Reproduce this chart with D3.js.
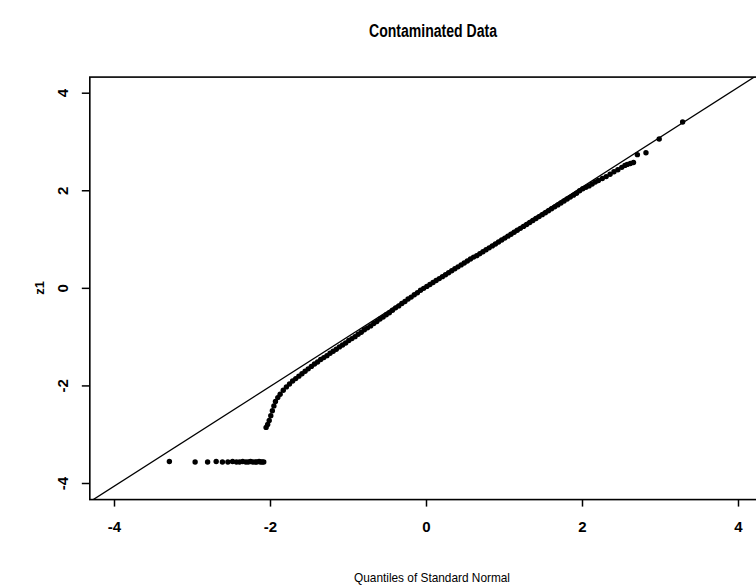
<!DOCTYPE html>
<html>
<head>
<meta charset="utf-8">
<script src="https://cdn.jsdelivr.net/npm/d3@7"></script>
<style>
  body { margin: 0; background: #fff; }
  svg { display: block; font-family: "Liberation Sans", Arial, sans-serif; }
</style>
</head>
<body>
<script>
// contaminated points (flat cluster in the lower tail)
var contamX = [-3.29, -2.96, -2.80, -2.69, -2.61, -2.54, -2.48, -2.43, -2.39, -2.35,
               -2.31, -2.28, -2.25, -2.22, -2.19, -2.17, -2.14, -2.12, -2.10, -2.08];
var contamY = [-3.56, -3.57, -3.57, -3.56, -3.57, -3.57, -3.56, -3.57, -3.57, -3.56,
               -3.57, -3.57, -3.56, -3.57, -3.57, -3.57, -3.56, -3.57, -3.57, -3.57];

// main body of the sample quantiles
var bodyX = [-2.05, -2.03, -2.01, -1.99, -1.97, -1.95, -1.93, -1.90, -1.87, -1.83, -1.79, -1.75,
  -1.71, -1.67, -1.63, -1.59, -1.55, -1.51, -1.47, -1.43, -1.39, -1.35, -1.31, -1.27,
  -1.23, -1.19, -1.15, -1.11, -1.07, -1.03, -0.99, -0.95, -0.91, -0.87, -0.83, -0.79,
  -0.75, -0.71, -0.67, -0.63, -0.59, -0.55, -0.51, -0.47, -0.43, -0.39, -0.35, -0.31,
  -0.27, -0.23, -0.19, -0.15, -0.11, -0.07, -0.03, 0.01, 0.05, 0.09, 0.13, 0.17,
  0.21, 0.25, 0.29, 0.33, 0.37, 0.41, 0.45, 0.49, 0.53, 0.57, 0.61, 0.65,
  0.69, 0.73, 0.77, 0.81, 0.85, 0.89, 0.93, 0.97, 1.01, 1.05, 1.09, 1.13,
  1.17, 1.21, 1.25, 1.29, 1.33, 1.37, 1.41, 1.45, 1.49, 1.53, 1.57, 1.61,
  1.65, 1.69, 1.73, 1.77, 1.81, 1.85, 1.89, 1.93, 1.97, 2.01, 2.05, 2.09,
  2.13, 2.17, 2.21, 2.26, 2.31, 2.36, 2.41, 2.46, 2.51, 2.55, 2.58, 2.62,
  2.66, 2.71, 2.82, 2.99, 3.29];
var bodyY = [-2.86, -2.80, -2.72, -2.62, -2.52, -2.42, -2.33, -2.25, -2.18, -2.10, -2.03, -1.97,
  -1.91, -1.86, -1.81, -1.76, -1.71, -1.66, -1.61, -1.56, -1.52, -1.47, -1.43, -1.39,
  -1.34, -1.30, -1.26, -1.21, -1.17, -1.13, -1.08, -1.04, -1.00, -0.95, -0.91, -0.86,
  -0.82, -0.78, -0.73, -0.69, -0.64, -0.60, -0.55, -0.51, -0.46, -0.41, -0.37, -0.32,
  -0.28, -0.23, -0.19, -0.14, -0.10, -0.05, -0.01, 0.03, 0.07, 0.11, 0.15, 0.19,
  0.23, 0.27, 0.31, 0.35, 0.39, 0.43, 0.47, 0.51, 0.55, 0.59, 0.63, 0.66,
  0.70, 0.74, 0.78, 0.82, 0.86, 0.90, 0.94, 0.98, 1.02, 1.06, 1.10, 1.14,
  1.18, 1.22, 1.26, 1.30, 1.34, 1.38, 1.42, 1.46, 1.50, 1.54, 1.58, 1.62,
  1.66, 1.70, 1.74, 1.78, 1.82, 1.86, 1.90, 1.94, 1.99, 2.03, 2.06, 2.09,
  2.13, 2.17, 2.20, 2.24, 2.28, 2.33, 2.38, 2.42, 2.47, 2.51, 2.53, 2.55,
  2.57, 2.73, 2.77, 3.05, 3.40];

var ticks = [-4, -2, 0, 2, 4];
var lineA = 0.02, lineB = 1.022;   // reference line y = a + b*x
var xLim = [-4.31, 4.31], yLim = [-4.34, 4.32];

var svg = d3.select("body").append("svg")
  .attr("width", 756)
  .attr("height", 585);

var x = d3.scaleLinear().domain([-4, 4]).range([114, 738]);
var y = d3.scaleLinear().domain([-4, 4]).range([483, 92.7]);

var pLeft = x(xLim[0]), pRight = x(xLim[1]), pTop = y(yLim[1]), pBottom = y(yLim[0]);

svg.append("clipPath").attr("id", "plot")
  .append("rect")
  .attr("x", pLeft).attr("y", pTop)
  .attr("width", pRight - pLeft).attr("height", pBottom - pTop);

var plot = svg.append("g").attr("clip-path", "url(#plot)");

// reference line
plot.append("line")
  .attr("x1", x(-4.6)).attr("y1", y(lineA + lineB * -4.6))
  .attr("x2", x(4.6)).attr("y2", y(lineA + lineB * 4.6))
  .attr("stroke", "#000").attr("stroke-width", 1.3);

// points
var pts = contamX.map(function(d, i) { return [d, contamY[i]]; })
  .concat(bodyX.map(function(d, i) { return [d, bodyY[i]]; }));

plot.selectAll("circle").data(pts).enter().append("circle")
  .attr("cx", function(d) { return x(d[0]); })
  .attr("cy", function(d) { return y(d[1]); })
  .attr("r", 2.7)
  .attr("fill", "#000");

// frame
svg.append("rect")
  .attr("x", pLeft).attr("y", pTop)
  .attr("width", pRight - pLeft).attr("height", pBottom - pTop)
  .attr("fill", "none").attr("stroke", "#000").attr("stroke-width", 1.6);

var fmt = function(d) { return String(d); };

// x axis
var xAxis = svg.append("g")
  .attr("transform", "translate(0," + pBottom + ")")
  .call(d3.axisBottom(x).tickValues(ticks).tickFormat(fmt).tickSize(7).tickPadding(15).tickSizeOuter(0));
xAxis.select(".domain").remove();
xAxis.selectAll("line").attr("stroke-width", 1.5);
xAxis.selectAll("text")
  .attr("font-size", 15).attr("font-weight", "bold")
  .attr("font-family", "Liberation Sans, Arial, sans-serif").attr("fill", "#000");

// y axis (labels rotated like R's las=0)
var yAxis = svg.append("g")
  .attr("transform", "translate(" + pLeft + ",0)")
  .call(d3.axisLeft(y).tickValues(ticks).tickFormat(fmt).tickSize(8).tickSizeOuter(0));
yAxis.select(".domain").remove();
yAxis.selectAll("line").attr("stroke-width", 1.5);
yAxis.selectAll("text")
  .attr("x", 0).attr("dy", 0)
  .attr("transform", "translate(-27,0) rotate(-90)")
  .attr("text-anchor", "middle")
  .attr("dominant-baseline", "central")
  .attr("font-size", 15).attr("font-weight", "bold")
  .attr("font-family", "Liberation Sans, Arial, sans-serif").attr("fill", "#000");

// title
svg.append("text")
  .attr("x", 433).attr("y", 37)
  .attr("text-anchor", "middle")
  .attr("font-size", 18).attr("font-weight", "bold")
  .attr("textLength", 128).attr("lengthAdjust", "spacingAndGlyphs")
  .text("Contaminated Data");

// axis titles
svg.append("text")
  .attr("x", 432).attr("y", 582)
  .attr("text-anchor", "middle")
  .attr("font-size", 13)
  .attr("textLength", 156).attr("lengthAdjust", "spacingAndGlyphs")
  .text("Quantiles of Standard Normal");

svg.append("text")
  .attr("transform", "translate(44," + y(0) + ") rotate(-90)")
  .attr("text-anchor", "middle")
  .attr("font-size", 13).attr("font-weight", "bold")
  .text("z1");
</script>
</body>
</html>
